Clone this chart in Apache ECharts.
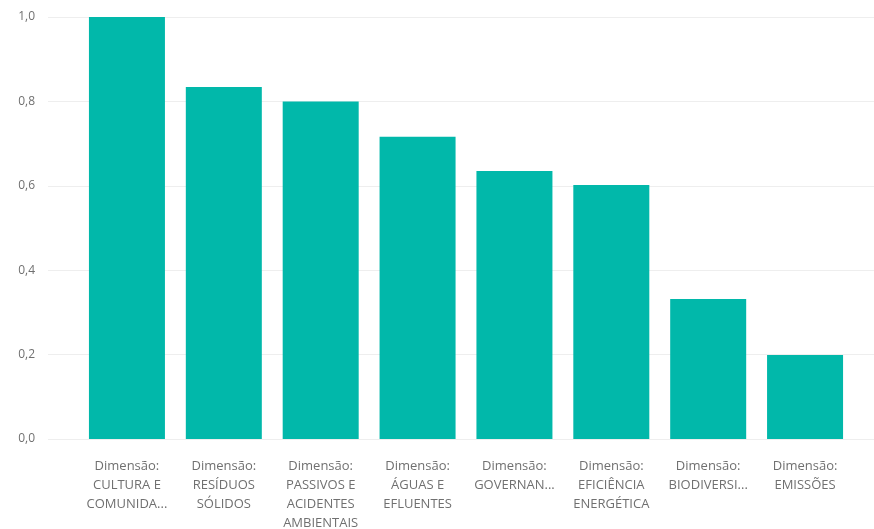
<!DOCTYPE html>
<html>
<head>
<meta charset="utf-8">
<script src="https://cdn.jsdelivr.net/npm/echarts@6/dist/echarts.min.js"></script>
<style>
html,body{margin:0;padding:0;background:#fff;}
#chart{width:874px;height:529px;}
</style>
</head>
<body>
<div id="chart"></div>
<script>
const categories = [
  "Dimensão:\nCULTURA E\nCOMUNIDA...",
  "Dimensão:\nRESÍDUOS\nSÓLIDOS",
  "Dimensão:\nPASSIVOS E\nACIDENTES\nAMBIENTAIS",
  "Dimensão:\nÁGUAS E\nEFLUENTES",
  "Dimensão:\nGOVERNAN...",
  "Dimensão:\nEFICIÊNCIA\nENERGÉTICA",
  "Dimensão:\nBIODIVERSI...",
  "Dimensão:\nEMISSÕES"
];
const values = [1.0, 0.834, 0.8, 0.716, 0.635, 0.602, 0.332, 0.199];
const yTicks = [0, 0.2, 0.4, 0.6, 0.8, 1.0];

const chart = echarts.init(document.getElementById('chart'), null, {renderer: 'canvas'});
const font = '"Open Sans", "Noto Sans", sans-serif';
chart.setOption({
  animation: false,
  backgroundColor: '#ffffff',
  grid: [
    {left: 48, right: 0, top: 17, bottom: 90, outerBoundsMode: 'none', containLabel: false},
    {left: 78.5, width: 775, top: 17, bottom: 90, outerBoundsMode: 'none', containLabel: false}
  ],
  xAxis: [
    {type: 'category', gridIndex: 0, data: [''], show: false},
    {
      type: 'category', gridIndex: 1, data: categories,
      axisLine: {show: false}, axisTick: {show: false},
      axisLabel: {
        interval: 0, margin: 18, color: '#707070', fontSize: 13,
        fontFamily: font, lineHeight: 19, align: 'center'
      }
    }
  ],
  yAxis: [
    {
      type: 'value', gridIndex: 0, min: 0, max: 1, interval: 0.2,
      axisLine: {show: false}, axisTick: {show: false},
      splitLine: {lineStyle: {color: '#eeeeee', width: 1}},
      axisLabel: {
        margin: 13, color: '#707070', fontSize: 12, fontFamily: font,
        formatter: v => v.toFixed(1).replace('.', ',')
      }
    },
    {type: 'value', gridIndex: 1, min: 0, max: 1, show: false}
  ],
  series: [{
    type: 'bar', xAxisIndex: 1, yAxisIndex: 1,
    data: values, barWidth: 76,
    itemStyle: {color: '#01B8AA'}
  }]
});
</script>
</body>
</html>
